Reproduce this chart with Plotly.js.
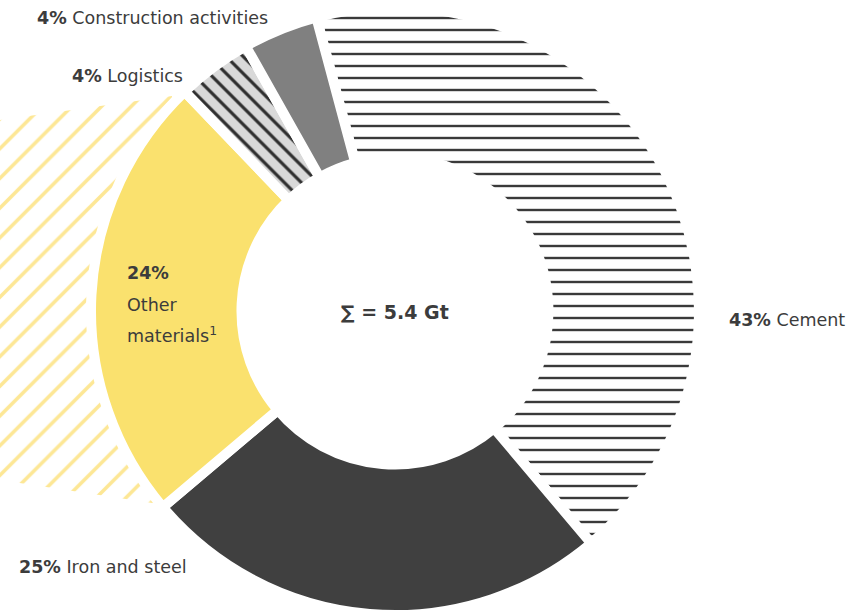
<!DOCTYPE html>
<html>
<head>
<meta charset="utf-8">
<script src="https://cdn.plot.ly/plotly-3.0.1.min.js"></script>
<style>
html,body{margin:0;padding:0;background:#fff;}
#chart{width:864px;height:615px;}
</style>
</head>
<body>
<div id="chart"></div>
<script>
// ---- data ----
const categories = ["Cement", "Iron and steel", "Other materials", "Logistics", "Construction activities"];
const shares = [43, 25, 24, 4, 4];
const labelLines = [["Cement"], ["Iron and steel"], ["Other", "materials<sup>1</sup>"], ["Logistics"], ["Construction activities"]];
const totalText = "\u2211 = 5.4 Gt";

// ---- styles (not data) ----
const fills = ["#ffffff", "#404040", "#fae16e", "#d9d9d9", "#808080"];
const patterns = [
  {shape: "-", fgcolor: "#3a3a3a", bgcolor: "#ffffff", size: 12, solidity: 0.2},
  {shape: "", fgcolor: "#404040", bgcolor: "#404040"},
  {shape: "", fgcolor: "#fae16e", bgcolor: "#fae16e"},
  {shape: "\\", fgcolor: "#2e2e2e", bgcolor: "#d9d9d9", size: 12, solidity: 0.26},
  {shape: "", fgcolor: "#808080", bgcolor: "#808080"}
];
const W = 864, H = 615;
const textColor = "#3c3c3c";
const FONT = "'DejaVu Sans', 'Noto Sans', sans-serif";
const FONT_SIZE = 17.5;
// label anchor positions in pixels (left x, middle y), one per category; multi-line: per line
const labelPos = [
  [[727, 320]],
  [[17, 567]],
  [[125, 273], [125, 305], [125, 335]],
  [[70, 76]],
  [[35, 18]]
];

// decorative hatched wedge behind "Other materials" (pixel outline)
const bandX = [0, 172, 172, 0];
const bandY = [120, 96, 506, 480];

const pie = {
  type: "pie",
  labels: categories,
  values: shares,
  sort: false,
  direction: "clockwise",
  rotation: -15,
  hole: 0.505,
  textinfo: "none",
  hoverinfo: "label+percent",
  showlegend: false,
  domain: {x: [(395 - 304) / W, (395 + 304) / W], y: [0, 608 / H]},
  marker: {
    colors: fills,
    line: {color: "#ffffff", width: 10},
    pattern: {
      shape: patterns.map(p => p.shape),
      fgcolor: patterns.map(p => p.fgcolor),
      bgcolor: patterns.map(p => p.bgcolor),
      size: patterns.map(p => p.size || 10),
      solidity: patterns.map(p => p.solidity || 0.3)
    }
  }
};

const hatch = {
  type: "scatter",
  mode: "none",
  x: bandX,
  y: bandY,
  fill: "toself",
  fillcolor: "#ffffff",
  fillpattern: {shape: "/", fgcolor: "#fde795", bgcolor: "#ffffff", size: 21, solidity: 0.17},
  hoverinfo: "skip",
  showlegend: false
};

const annotations = [];
categories.forEach((c, i) => {
  const lines = labelLines[i];
  const pos = labelPos[i];
  if (pos.length === 1) {
    annotations.push({
      text: "<b>" + shares[i] + "%</b> " + lines.join(" "),
      x: pos[0][0] / W, y: 1 - pos[0][1] / H,
      xanchor: "left", yanchor: "middle"
    });
  } else {
    const all = ["<b>" + shares[i] + "%</b>"].concat(lines);
    all.forEach((t, k) => annotations.push({
      text: t, x: pos[k][0] / W, y: 1 - pos[k][1] / H,
      xanchor: "left", yanchor: "middle"
    }));
  }
});
annotations.forEach(a => {
  a.xref = "paper"; a.yref = "paper"; a.showarrow = false;
  a.font = {family: FONT, size: FONT_SIZE, color: textColor};
});
annotations.push({
  text: "<b>" + totalText + "</b>",
  x: 395 / W, y: 1 - 312 / H, xref: "paper", yref: "paper",
  xanchor: "center", yanchor: "middle", showarrow: false,
  font: {family: "'DejaVu Sans', sans-serif", size: 19, color: textColor}
});

const layout = {
  width: W, height: H,
  margin: {l: 0, r: 0, t: 0, b: 0},
  paper_bgcolor: "#ffffff",
  plot_bgcolor: "rgba(0,0,0,0)",
  xaxis: {range: [0, W], visible: false, fixedrange: true},
  yaxis: {range: [H, 0], visible: false, fixedrange: true},
  annotations: annotations
};

Plotly.newPlot("chart", [hatch, pie], layout, {displayModeBar: false, staticPlot: true});
</script>
</body>
</html>
